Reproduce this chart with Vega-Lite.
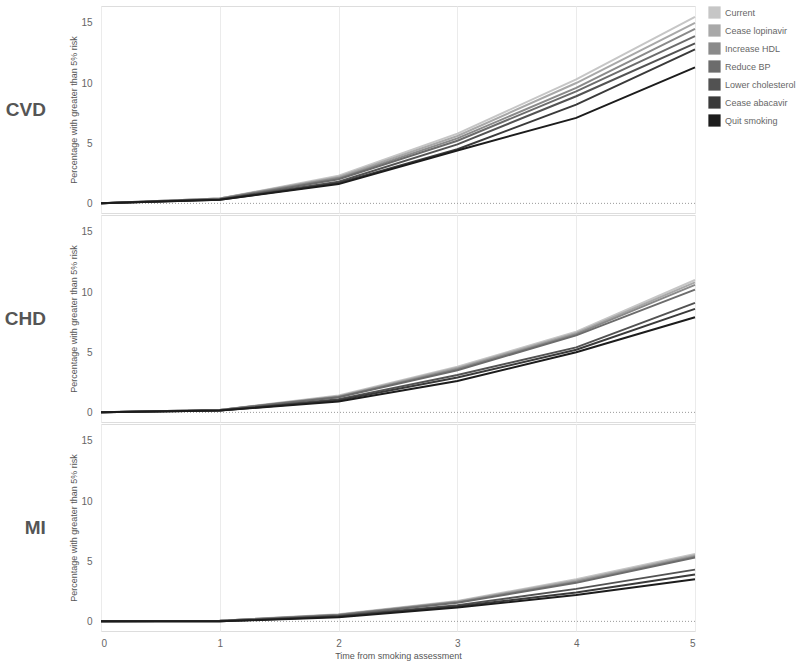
{
  "$schema": "https://vega.github.io/schema/vega-lite/v6.json",
  "padding": {"left": 4, "top": 5, "right": 2, "bottom": 5},
  "background": "white",
  "config": {
    "font": "Liberation Sans",
    "view": {"stroke": "#dddddd", "strokeWidth": 1},
    "axis": {"labelColor": "#666666", "titleColor": "#555555", "labelFontSize": 10, "titleFontSize": 9, "titleFontWeight": "normal", "gridColor": "#ebebeb", "domain": false, "ticks": false}
  },
  "data": {"values": [
    {"o":"CVD","s":"Current","t":0,"v":0},{"o":"CVD","s":"Current","t":1,"v":0.4},{"o":"CVD","s":"Current","t":2,"v":2.3},{"o":"CVD","s":"Current","t":3,"v":5.8},{"o":"CVD","s":"Current","t":4,"v":10.3},{"o":"CVD","s":"Current","t":5,"v":15.5},
    {"o":"CVD","s":"Cease lopinavir","t":0,"v":0},{"o":"CVD","s":"Cease lopinavir","t":1,"v":0.4},{"o":"CVD","s":"Cease lopinavir","t":2,"v":2.2},{"o":"CVD","s":"Cease lopinavir","t":3,"v":5.6},{"o":"CVD","s":"Cease lopinavir","t":4,"v":10.0},{"o":"CVD","s":"Cease lopinavir","t":5,"v":15.0},
    {"o":"CVD","s":"Increase HDL","t":0,"v":0},{"o":"CVD","s":"Increase HDL","t":1,"v":0.4},{"o":"CVD","s":"Increase HDL","t":2,"v":2.1},{"o":"CVD","s":"Increase HDL","t":3,"v":5.4},{"o":"CVD","s":"Increase HDL","t":4,"v":9.6},{"o":"CVD","s":"Increase HDL","t":5,"v":14.5},
    {"o":"CVD","s":"Reduce BP","t":0,"v":0},{"o":"CVD","s":"Reduce BP","t":1,"v":0.35},{"o":"CVD","s":"Reduce BP","t":2,"v":2.0},{"o":"CVD","s":"Reduce BP","t":3,"v":5.2},{"o":"CVD","s":"Reduce BP","t":4,"v":9.3},{"o":"CVD","s":"Reduce BP","t":5,"v":13.9},
    {"o":"CVD","s":"Lower cholesterol","t":0,"v":0},{"o":"CVD","s":"Lower cholesterol","t":1,"v":0.35},{"o":"CVD","s":"Lower cholesterol","t":2,"v":1.8},{"o":"CVD","s":"Lower cholesterol","t":3,"v":4.9},{"o":"CVD","s":"Lower cholesterol","t":4,"v":8.9},{"o":"CVD","s":"Lower cholesterol","t":5,"v":13.3},
    {"o":"CVD","s":"Cease abacavir","t":0,"v":0},{"o":"CVD","s":"Cease abacavir","t":1,"v":0.3},{"o":"CVD","s":"Cease abacavir","t":2,"v":1.7},{"o":"CVD","s":"Cease abacavir","t":3,"v":4.5},{"o":"CVD","s":"Cease abacavir","t":4,"v":8.2},{"o":"CVD","s":"Cease abacavir","t":5,"v":12.8},
    {"o":"CVD","s":"Quit smoking","t":0,"v":0},{"o":"CVD","s":"Quit smoking","t":1,"v":0.3},{"o":"CVD","s":"Quit smoking","t":2,"v":1.6},{"o":"CVD","s":"Quit smoking","t":3,"v":4.4},{"o":"CVD","s":"Quit smoking","t":4,"v":7.1},{"o":"CVD","s":"Quit smoking","t":5,"v":11.3},
    {"o":"CHD","s":"Current","t":0,"v":0},{"o":"CHD","s":"Current","t":1,"v":0.2},{"o":"CHD","s":"Current","t":2,"v":1.4},{"o":"CHD","s":"Current","t":3,"v":3.8},{"o":"CHD","s":"Current","t":4,"v":6.7},{"o":"CHD","s":"Current","t":5,"v":11.0},
    {"o":"CHD","s":"Cease lopinavir","t":0,"v":0},{"o":"CHD","s":"Cease lopinavir","t":1,"v":0.2},{"o":"CHD","s":"Cease lopinavir","t":2,"v":1.35},{"o":"CHD","s":"Cease lopinavir","t":3,"v":3.7},{"o":"CHD","s":"Cease lopinavir","t":4,"v":6.6},{"o":"CHD","s":"Cease lopinavir","t":5,"v":10.8},
    {"o":"CHD","s":"Increase HDL","t":0,"v":0},{"o":"CHD","s":"Increase HDL","t":1,"v":0.2},{"o":"CHD","s":"Increase HDL","t":2,"v":1.3},{"o":"CHD","s":"Increase HDL","t":3,"v":3.6},{"o":"CHD","s":"Increase HDL","t":4,"v":6.5},{"o":"CHD","s":"Increase HDL","t":5,"v":10.6},
    {"o":"CHD","s":"Reduce BP","t":0,"v":0},{"o":"CHD","s":"Reduce BP","t":1,"v":0.2},{"o":"CHD","s":"Reduce BP","t":2,"v":1.25},{"o":"CHD","s":"Reduce BP","t":3,"v":3.5},{"o":"CHD","s":"Reduce BP","t":4,"v":6.4},{"o":"CHD","s":"Reduce BP","t":5,"v":10.2},
    {"o":"CHD","s":"Lower cholesterol","t":0,"v":0},{"o":"CHD","s":"Lower cholesterol","t":1,"v":0.15},{"o":"CHD","s":"Lower cholesterol","t":2,"v":1.1},{"o":"CHD","s":"Lower cholesterol","t":3,"v":3.1},{"o":"CHD","s":"Lower cholesterol","t":4,"v":5.4},{"o":"CHD","s":"Lower cholesterol","t":5,"v":9.1},
    {"o":"CHD","s":"Cease abacavir","t":0,"v":0},{"o":"CHD","s":"Cease abacavir","t":1,"v":0.15},{"o":"CHD","s":"Cease abacavir","t":2,"v":1.0},{"o":"CHD","s":"Cease abacavir","t":3,"v":2.9},{"o":"CHD","s":"Cease abacavir","t":4,"v":5.2},{"o":"CHD","s":"Cease abacavir","t":5,"v":8.6},
    {"o":"CHD","s":"Quit smoking","t":0,"v":0},{"o":"CHD","s":"Quit smoking","t":1,"v":0.15},{"o":"CHD","s":"Quit smoking","t":2,"v":0.9},{"o":"CHD","s":"Quit smoking","t":3,"v":2.6},{"o":"CHD","s":"Quit smoking","t":4,"v":5.0},{"o":"CHD","s":"Quit smoking","t":5,"v":7.9},
    {"o":"MI","s":"Current","t":0,"v":0},{"o":"MI","s":"Current","t":1,"v":0.05},{"o":"MI","s":"Current","t":2,"v":0.6},{"o":"MI","s":"Current","t":3,"v":1.7},{"o":"MI","s":"Current","t":4,"v":3.5},{"o":"MI","s":"Current","t":5,"v":5.6},
    {"o":"MI","s":"Cease lopinavir","t":0,"v":0},{"o":"MI","s":"Cease lopinavir","t":1,"v":0.05},{"o":"MI","s":"Cease lopinavir","t":2,"v":0.55},{"o":"MI","s":"Cease lopinavir","t":3,"v":1.65},{"o":"MI","s":"Cease lopinavir","t":4,"v":3.4},{"o":"MI","s":"Cease lopinavir","t":5,"v":5.5},
    {"o":"MI","s":"Increase HDL","t":0,"v":0},{"o":"MI","s":"Increase HDL","t":1,"v":0.05},{"o":"MI","s":"Increase HDL","t":2,"v":0.55},{"o":"MI","s":"Increase HDL","t":3,"v":1.6},{"o":"MI","s":"Increase HDL","t":4,"v":3.3},{"o":"MI","s":"Increase HDL","t":5,"v":5.4},
    {"o":"MI","s":"Reduce BP","t":0,"v":0},{"o":"MI","s":"Reduce BP","t":1,"v":0.05},{"o":"MI","s":"Reduce BP","t":2,"v":0.5},{"o":"MI","s":"Reduce BP","t":3,"v":1.55},{"o":"MI","s":"Reduce BP","t":4,"v":3.2},{"o":"MI","s":"Reduce BP","t":5,"v":5.3},
    {"o":"MI","s":"Lower cholesterol","t":0,"v":0},{"o":"MI","s":"Lower cholesterol","t":1,"v":0.0},{"o":"MI","s":"Lower cholesterol","t":2,"v":0.45},{"o":"MI","s":"Lower cholesterol","t":3,"v":1.35},{"o":"MI","s":"Lower cholesterol","t":4,"v":2.7},{"o":"MI","s":"Lower cholesterol","t":5,"v":4.3},
    {"o":"MI","s":"Cease abacavir","t":0,"v":0},{"o":"MI","s":"Cease abacavir","t":1,"v":0.0},{"o":"MI","s":"Cease abacavir","t":2,"v":0.4},{"o":"MI","s":"Cease abacavir","t":3,"v":1.25},{"o":"MI","s":"Cease abacavir","t":4,"v":2.4},{"o":"MI","s":"Cease abacavir","t":5,"v":3.9},
    {"o":"MI","s":"Quit smoking","t":0,"v":0},{"o":"MI","s":"Quit smoking","t":1,"v":0.0},{"o":"MI","s":"Quit smoking","t":2,"v":0.35},{"o":"MI","s":"Quit smoking","t":3,"v":1.15},{"o":"MI","s":"Quit smoking","t":4,"v":2.2},{"o":"MI","s":"Quit smoking","t":5,"v":3.5}
  ]},
  "facet": {
    "row": {
      "field": "o", "type": "nominal", "sort": ["CVD", "CHD", "MI"],
      "header": {"title": null, "labelOrient": "left", "labelAngle": 0, "labelFontSize": 19, "labelFontWeight": "bold", "labelColor": "#555555", "labelPadding": 24, "labelAlign": "left"}
    }
  },
  "spacing": {"row": 0},
  "spec": {
    "width": 594,
    "height": 207,
    "layer": [
      {
        "transform": [{"filter": "datum.s === 'Current' && datum.t === 0"}],
        "mark": {"type": "rule", "color": "#999999", "strokeDash": [1, 2], "strokeWidth": 1},
        "encoding": {"y": {"datum": 0, "type": "quantitative", "scale": {"domain": [-0.8, 16.4], "nice": false, "zero": false}}}
      },
      {
        "mark": {"type": "line", "strokeWidth": 2},
        "encoding": {
          "x": {"field": "t", "type": "quantitative", "scale": {"domain": [0, 5], "nice": false}, "axis": {"values": [0, 1, 2, 3, 4, 5], "title": "Time from smoking assessment", "labelPadding": 6, "titlePadding": 3}},
          "y": {"field": "v", "type": "quantitative", "scale": {"domain": [-0.8, 16.4], "nice": false, "zero": false}, "axis": {"values": [0, 5, 10, 15], "title": "Percentage with greater than 5% risk", "labelPadding": 4, "titlePadding": 2}},
          "color": {"field": "s", "type": "nominal",
            "sort": ["Current", "Cease lopinavir", "Increase HDL", "Reduce BP", "Lower cholesterol", "Cease abacavir", "Quit smoking"],
            "scale": {"domain": ["Current", "Cease lopinavir", "Increase HDL", "Reduce BP", "Lower cholesterol", "Cease abacavir", "Quit smoking"],
                      "range": ["#c6c6c6", "#a8a8a8", "#8a8a8a", "#6c6c6c", "#525252", "#3a3a3a", "#1c1c1c"]},
            "legend": {"title": null, "symbolType": "square", "symbolSize": 150, "labelFontSize": 9, "labelColor": "#666666", "rowPadding": 5, "offset": 8, "orient": "right",
              "encode": {"symbols": {"update": {"fill": {"scale": "color", "field": "value"}, "fillOpacity": {"value": 1}, "strokeWidth": {"value": 0}}}}}
          }
        }
      }
    ]
  }
}
